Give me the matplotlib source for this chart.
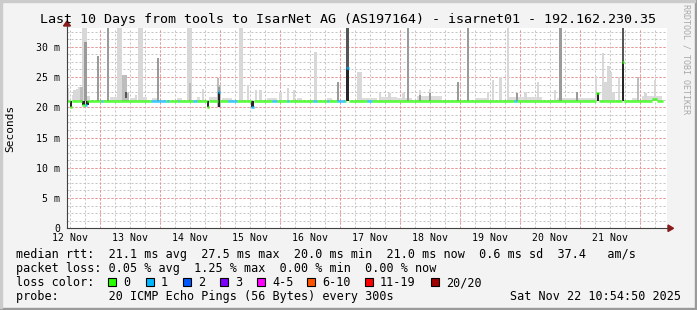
import numpy as np
import matplotlib.pyplot as plt
from matplotlib.patches import Rectangle, Polygon
from matplotlib.collections import LineCollection
from matplotlib.lines import Line2D

plt.rcParams['font.family'] = ['DejaVu Sans Mono', 'DejaVu Sans']

# ---------------- data ----------------
end_time = np.datetime64('2025-11-22T10:54:50')
span_hours = 240            # last 10 days
base_rtt = 21.1             # ms, median most of the time
last_hour = 238.4           # median stops a little before the right edge

# median rtt where it leaves the base line: hour, ms, lost pings (of 20)
dev_hour = [1.6, 6.6, 7.6, 56.4, 60.8, 74.2, 112.2, 212.2, 222.4, 234.4, 235.4]
dev_rtt = [20.0, 20.4, 20.4, 20.1, 22.5, 20.0, 26.5, 22.4, 27.5, 21.3, 21.3]
dev_loss = [0, 0, 1, 0, 1, 1, 1, 0, 0, 0, 0]

# stretches of the base line where 1 of 20 pings was lost
loss1_start = [13.6, 33.3, 40.0, 44.2, 50.4, 64.4, 82.0, 88.0, 98.4, 104.0, 108.0, 120.0, 178.8]
loss1_end = [14.4, 39.6, 40.6, 44.8, 52.0, 68.0, 84.0, 88.8, 100.0, 104.8, 111.2, 122.0, 180.0]

# smoke columns: hour, low ms, high ms, density class (1 sparse .. 5 dense)
smoke_hour = [0.2, 3.0, 4.0, 5.0, 5.8, 6.6, 7.4, 7.4, 8.6, 12.4, 16.4, 20.6, 21.6,
              22.6, 23.6, 23.6, 24.4, 27.6, 28.8, 29.8, 36.4, 48.6, 49.6, 49.2,
              54.4, 60.4, 61.2, 60.8, 60.8, 69.2, 70.0, 72.4, 75.6, 77.4,
              85.4, 88.4, 90.8, 99.4, 108.4, 112.2, 112.2, 116.4, 117.4, 125.2,
              129.0, 134.6, 136.4, 141.2, 141.2, 145.2, 145.2, 156.4, 160.4, 168.4,
              170.4, 173.4, 176.4, 180.0, 183.4, 188.4, 195.2, 197.4, 204.0, 211.6,
              212.4, 214.4, 215.4, 216.6, 217.6, 218.6, 220.8, 222.4, 222.4, 228.4,
              231.4, 235.2, 1.6, 6.6, 8.2, 56.4, 74.2]
smoke_lo = [21.1, 21.1, 21.1, 21.1, 21.1, 20.5, 20.5, 21.1, 21.1, 21.1, 21.1, 21.1, 21.1,
            21.1, 21.1, 21.5, 21.1, 21.1, 21.1, 21.1, 21.1, 21.1, 21.1, 21.1,
            21.1, 20.0, 20.0, 20.0, 20.0, 21.1, 21.1, 21.1, 21.1, 21.1,
            21.1, 21.1, 21.1, 21.1, 21.1, 21.1, 21.1, 21.1, 21.1, 21.1,
            21.1, 21.1, 21.1, 21.1, 21.1, 21.1, 21.1, 21.1, 21.1, 21.1,
            21.1, 21.1, 21.1, 21.1, 21.1, 21.1, 21.1, 21.1, 21.1, 21.1,
            21.1, 21.1, 21.1, 21.1, 21.1, 21.1, 21.1, 21.1, 21.1, 21.1,
            21.1, 21.1, 20.0, 20.4, 20.4, 20.1, 20.0]
smoke_hi = [23.2, 22.8, 23.0, 23.4, 23.4, 34.0, 34.0, 30.8, 21.8, 28.4, 34.0, 34.0, 34.0,
            25.4, 25.3, 22.6, 22.4, 22.0, 34.0, 34.0, 28.2, 34.0, 34.0, 24.0,
            23.1, 24.8, 23.6, 23.4, 22.6, 34.0, 34.0, 23.6, 22.9, 22.9,
            22.6, 23.2, 22.9, 29.2, 24.2, 34.0, 26.5, 25.8, 25.8, 22.3,
            22.4, 22.4, 34.0, 22.9, 22.0, 23.1, 22.3, 24.2, 34.0, 22.6,
            24.5, 25.0, 34.0, 22.4, 22.5, 24.2, 22.9, 34.0, 22.5, 25.2,
            22.4, 28.9, 24.2, 26.8, 25.8, 22.6, 25.0, 34.0, 27.5, 25.0,
            22.4, 24.5, 21.1, 21.1, 21.1, 21.1, 21.1]
smoke_dens = [1, 1, 1, 1, 2, 1, 1, 3, 1, 3, 3, 1, 1,
              2, 2, 4, 2, 1, 1, 1, 3, 1, 1, 2,
              1, 2, 2, 3, 5, 1, 1, 1, 1, 1,
              1, 1, 1, 1, 3, 4, 5, 1, 1, 1,
              1, 1, 3, 1, 3, 1, 3, 3, 3, 1,
              1, 1, 1, 3, 1, 1, 1, 3, 3, 1,
              5, 1, 1, 1, 1, 1, 1, 4, 5, 2,
              1, 1, 5, 5, 5, 5, 5]

# faint smoke just above the median
haze_start = [2.0, 8.0, 17.0, 25.0, 30.4, 34.0, 44.0, 52.0, 56.8, 62.0, 80.0, 92.0, 104.0,
              118.0, 125.0, 132.0, 140.0, 146.0, 163.0, 176.0, 181.0, 196.0, 205.0, 226.0, 230.0]
haze_end = [6.0, 9.2, 20.0, 27.0, 32.0, 36.0, 46.0, 53.2, 60.0, 66.0, 84.0, 94.0, 106.0,
            124.0, 132.0, 138.0, 150.0, 148.0, 168.0, 182.0, 190.0, 205.0, 211.0, 228.0, 238.0]
haze_top = [22.0, 21.7, 21.7, 21.6, 21.7, 21.6, 21.6, 21.7, 21.7, 21.6, 21.6, 21.5, 21.6,
            21.6, 21.7, 21.6, 21.8, 21.6, 21.6, 21.7, 21.7, 21.6, 21.6, 21.6, 21.8]

loss_labels = ['0', '1', '2', '3', '4-5', '6-10', '11-19', '20/20']
loss_colors = ['#26ff00', '#00b8ff', '#0059ff', '#7e00ff', '#ff00ff', '#ff5500', '#ff0000', '#a10000']

stat_rows = [
    'median rtt:  21.1 ms avg  27.5 ms max  20.0 ms min  21.0 ms now  0.6 ms sd  37.4   am/s',
    'packet loss: 0.05 % avg  1.25 % max  0.00 % min  0.00 % now',
    'loss color:',
    'probe:       20 ICMP Echo Pings (56 Bytes) every 300s',
]
title = 'Last 10 Days from tools to IsarNet AG (AS197164) - isarnet01 - 192.162.230.35'

# ---------------- figure ----------------
W, H = 697, 310
fig = plt.figure(figsize=(W / 100, H / 100), dpi=100)
fig.patch.set_facecolor('#f3f3f3')

x0, x1, y0, y1 = 67, 667, 228.3, 28
ax = fig.add_axes([x0 / W, 1 - y0 / H, (x1 - x0) / W, (y0 - y1) / H])
ax.set_facecolor('white')
ax.set_xlim(0, span_hours)
ax.set_ylim(0, 33.1)
for s in ax.spines.values():
    s.set_visible(False)

# time grid
start_time = end_time - np.timedelta64(span_hours, 'h')
first_midnight = (start_time + np.timedelta64(1, 'D')).astype('datetime64[D]')
mid0 = (first_midnight - start_time) / np.timedelta64(1, 'h')
grid_min = np.arange(mid0 % 6, span_hours, 6)
grid_maj = np.arange(mid0, span_hours, 24)
dots = (0, (2, 2))
for g in grid_min:
    ax.axvline(g, color='#c4c4c4', lw=0.72, ls=dots, zorder=1)
for g in np.arange(0, 33.1, 1.25):
    ax.axhline(g, color='#c4c4c4', lw=0.72, ls=dots, zorder=1)
for g in grid_maj:
    ax.axvline(g, color='#f09090', lw=0.72, ls=dots, zorder=1)
for g in range(5, 33, 5):
    ax.axhline(g, color='#f09090', lw=0.72, ls=dots, zorder=1)

label_pos = np.arange(mid0 - 12, span_hours, 24)
label_txt = []
for p in label_pos:
    d = start_time + np.timedelta64(int(p * 3600), 's')
    label_txt.append(f"{int(str(d)[8:10])} Nov")
ax.set_xticks(label_pos, label_txt)
ax.set_yticks(range(0, 31, 5), ['0'] + [f'{v} m' for v in range(5, 31, 5)])
ax.tick_params(axis='x', length=0, pad=3.6, labelsize=7.1, colors='#000000')
ax.tick_params(axis='y', length=0, pad=5.0, labelsize=7.1, colors='#000000')

# smoke
shade = {1: '#d8d8d8', 2: '#bdbdbd', 3: '#9a9a9a', 4: '#555555', 5: '#262626'}
ax.bar(haze_start, np.array(haze_top) - base_rtt, bottom=base_rtt,
       width=np.array(haze_end) - np.array(haze_start), align='edge',
       color='#dcdcdc', linewidth=0, zorder=2)
order = np.argsort(smoke_dens, kind='stable')
for i in order:
    ax.bar(smoke_hour[i], smoke_hi[i] - smoke_lo[i], bottom=smoke_lo[i], width=1.0,
           color=shade[smoke_dens[i]], linewidth=0, zorder=2)

# median line coloured by loss
step = 0.4
t = np.arange(0, last_hour, step)
rtt = np.full(t.size, base_rtt)
loss = np.zeros(t.size, dtype=int)
for a, b in zip(loss1_start, loss1_end):
    loss[(t >= a) & (t < b)] = 1
for h, r, l in zip(dev_hour, dev_rtt, dev_loss):
    m = np.abs(t + step / 2 - h) <= 0.5
    rtt[m] = r
    loss[m] = l
segs = [[(ti, ri), (ti + step, ri)] for ti, ri in zip(t, rtt)]
lc = LineCollection(segs, colors=[loss_colors[l] for l in loss], linewidths=1.8,
                    capstyle='butt', zorder=3)
ax.add_collection(lc)

# axes lines and arrows (pixel space)
px = lambda x, y: (x / W, 1 - y / H)
fig.add_artist(Line2D(*zip(px(x0, y0), px(668, y0)), color='#404040', lw=0.8))
fig.add_artist(Line2D(*zip(px(x0, y0), px(x0, 26)), color='#404040', lw=0.8))
fig.add_artist(Polygon([px(668, 225), px(668, 231.5), px(673.5, 228.3)], closed=True,
                       color='#8b1a1a', transform=fig.transFigure))
fig.add_artist(Polygon([px(63.5, 26), px(70.5, 26), px(67, 21)], closed=True,
                       color='#8b1a1a', transform=fig.transFigure))

# texts
fig.text(348.5 / W, 1 - 19 / H, title, ha='center', va='center', fontsize=9.6)
fig.text(10 / W, 1 - 128 / H, 'Seconds', rotation=90, ha='center', va='center',
         fontsize=8.0, family=['DejaVu Sans Mono'])
fig.text(686 / W, 1 - 4 / H, 'RRDTOOL / TOBI OETIKER', rotation=270, ha='center', va='top',
         fontsize=6.0, color='#a8a8a8')
for k, row in enumerate(stat_rows):
    fig.text(16 / W, 1 - (254.5 + 14 * k) / H, row, ha='left', va='center', fontsize=8.5)
fig.text(681 / W, 1 - 296.5 / H, 'Sat Nov 22 10:54:50 2025', ha='right', va='center', fontsize=8.5)

box_x = [108, 146, 183, 220, 257, 307, 365, 431]
for bx, lab, col in zip(box_x, loss_labels, loss_colors):
    fig.add_artist(Rectangle(px(bx, 286), 8 / W, 8 / H, facecolor=col, edgecolor='black',
                             lw=0.8, transform=fig.transFigure))
    fig.text((bx + 15) / W, 1 - 282.5 / H, lab, ha='left', va='center', fontsize=8.5)

# 3d frame
fig.add_artist(Rectangle((0, 0), 1, 2 / H, color='#9a9a9a', transform=fig.transFigure))
fig.add_artist(Rectangle((1 - 2 / W, 0), 2 / W, 1, color='#9a9a9a', transform=fig.transFigure))
fig.add_artist(Rectangle((0, 1 - 2 / H), 1 - 2 / W, 2 / H, color='#cbcbcb', transform=fig.transFigure))
fig.add_artist(Rectangle((0, 2 / H), 2 / W, 1 - 4 / H, color='#cbcbcb', transform=fig.transFigure))

fig.savefig('out.png', dpi=100, facecolor=fig.get_facecolor())
